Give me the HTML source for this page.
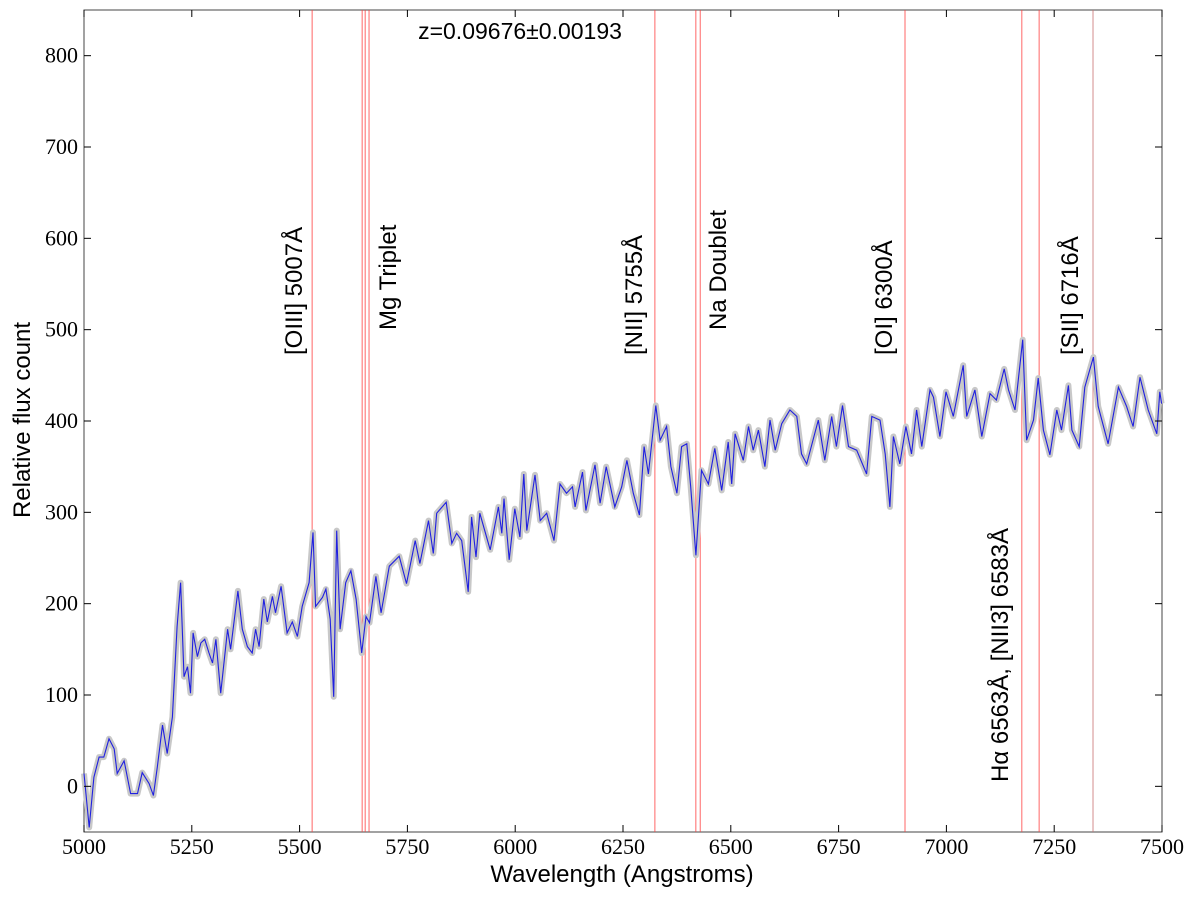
<!DOCTYPE html>
<html><head><meta charset="utf-8"><style>
html,body{margin:0;padding:0;background:#fff;}
svg text{font-family:"Liberation Sans",sans-serif;}
.tick{font-family:"Liberation Serif",serif;font-size:22px;fill:#000;}
.lab{font-size:24px;fill:#000;}
</style></head><body>
<svg id="chart" width="1200" height="900" xmlns="http://www.w3.org/2000/svg">
<rect x="84" y="10" width="1078" height="822" fill="#fff" stroke="#444" stroke-width="1"/>
<g id="lines"></g>
<g id="series"></g>
<g id="ticks"></g>
<g id="labels"></g>
<text x="520" y="39" text-anchor="middle" font-size="23">z=0.09676±0.00193</text>
<text x="622" y="882" text-anchor="middle" class="lab">Wavelength (Angstroms)</text>
<text transform="translate(30,420) rotate(-90)" text-anchor="middle" class="lab">Relative flux count</text>
</svg>
<script>
const wavelengths=[5000,5012,5023,5035,5046,5058,5070,5077,5093,5108,5124,5135,5151,5161,5170,5182,5193,5205,5216,5224,5232,5240,5247,5253,5263,5271,5280,5290,5298,5306,5317,5333,5340,5357,5367,5379,5390,5398,5406,5417,5425,5437,5444,5457,5471,5483,5495,5506,5522,5531,5537,5553,5561,5571,5579,5586,5594,5607,5619,5631,5644,5654,5662,5677,5689,5708,5731,5748,5768,5779,5799,5810,5818,5840,5853,5864,5876,5891,5899,5909,5918,5942,5961,5969,5974,5986,5999,6011,6020,6027,6046,6058,6073,6090,6104,6119,6133,6139,6156,6164,6185,6197,6211,6231,6247,6259,6274,6288,6299,6309,6326,6336,6351,6361,6375,6386,6398,6407,6419,6432,6448,6463,6479,6494,6502,6510,6529,6541,6552,6564,6579,6591,6603,6618,6637,6653,6664,6676,6703,6718,6734,6745,6759,6773,6792,6815,6827,6846,6858,6869,6877,6892,6906,6919,6931,6943,6962,6970,6985,6999,7016,7039,7047,7066,7082,7101,7116,7134,7144,7159,7177,7186,7202,7213,7225,7240,7256,7267,7283,7291,7308,7321,7341,7352,7375,7399,7418,7433,7449,7468,7488,7495,7499];
const flux=[14,-45,10,32,32,52,41,14,28,-8,-8,15,3,-10,21,67,36,76,175,223,120,131,102,168,142,157,161,146,135,161,102,172,150,214,172,153,146,172,153,205,180,208,190,219,168,180,164,197,223,278,197,207,216,183,98,280,172,223,236,205,146,186,179,230,190,241,252,222,269,244,291,255,299,311,266,277,269,213,295,251,299,259,306,277,315,248,304,273,342,280,341,291,299,269,331,321,328,306,344,302,352,310,350,306,328,357,321,297,372,342,417,379,394,350,321,372,375,328,253,346,331,370,324,377,331,386,357,394,368,390,350,401,368,397,412,405,364,353,401,357,405,372,417,372,368,342,405,401,364,306,383,353,394,364,412,372,434,426,383,432,405,461,405,434,383,430,423,457,434,412,489,379,401,447,390,363,412,390,439,390,372,437,470,416,375,437,416,394,448,412,386,432,419];
const lineWavelengths=[5529,5645,5652,5661,6324,6419,6429,6904,7175,7215,7340];
const xTicks=[5000,5250,5500,5750,6000,6250,6500,6750,7000,7250,7500];
const yTicks=[0,100,200,300,400,500,600,700,800];
const X0=84,X1=1162,Y0=10,Y1=832,XMIN=5000,XMAX=7500,YMIN=-50,YMAX=850;
const sx=v=>X0+(v-XMIN)/(XMAX-XMIN)*(X1-X0);
const sy=v=>Y1-(v-YMIN)/(YMAX-YMIN)*(Y1-Y0);
const NS='http://www.w3.org/2000/svg';
function mk(t,a,p){const e=document.createElementNS(NS,t);for(const k in a)e.setAttribute(k,a[k]);p.appendChild(e);return e;}
const gl=document.getElementById('lines');
lineWavelengths.forEach((w,i)=>{const l=mk('line',{x1:sx(w),x2:sx(w),y1:Y0,y2:Y1,stroke:i==10?'#c87070':'#ff4040','stroke-width':0.8},gl);

});
const gs=document.getElementById('series');
const d=wavelengths.map((w,i)=>(i?'L':'M')+sx(w).toFixed(1)+' '+sy(flux[i]).toFixed(1)).join(' ');
const g1=mk('path',{d:d,fill:'none',stroke:'#c8c8c8','stroke-width':6,'stroke-linejoin':'round'},gs);


const b1=mk('path',{d:d,fill:'none',stroke:'#2020e0','stroke-width':1.1},gs);


const gt=document.getElementById('ticks');
xTicks.forEach(v=>{mk('line',{x1:sx(v),x2:sx(v),y1:Y1,y2:Y1-7,stroke:'#000'},gt);mk('line',{x1:sx(v),x2:sx(v),y1:Y0,y2:Y0+7,stroke:'#000'},gt);
const t=mk('text',{x:sx(v),y:Y1+22,'text-anchor':'middle',class:'tick'},gt);t.textContent=v;

});
yTicks.forEach(v=>{mk('line',{x1:X0,x2:X0+7,y1:sy(v),y2:sy(v),stroke:'#000'},gt);mk('line',{x1:X1,x2:X1-7,y1:sy(v),y2:sy(v),stroke:'#000'},gt);
const t=mk('text',{x:X0-6,y:sy(v)+7,'text-anchor':'end',class:'tick'},gt);t.textContent=v;

});
const labels=[["[OIII] 5007Å",302,355],["Mg Triplet",396,330],["[NII] 5755Å",642,355],["Na Doublet",726,330],["[OI] 6300Å",892,355],["[SII] 6716Å",1078,355],["Hα 6563Å, [NII3] 6583Å",1008,782]];
const glb=document.getElementById('labels');
labels.forEach(L=>{const t=mk('text',{transform:'translate('+L[1]+','+L[2]+') rotate(-90)',class:'lab'},glb);t.textContent=L[0];

});
</script>
</body></html>
